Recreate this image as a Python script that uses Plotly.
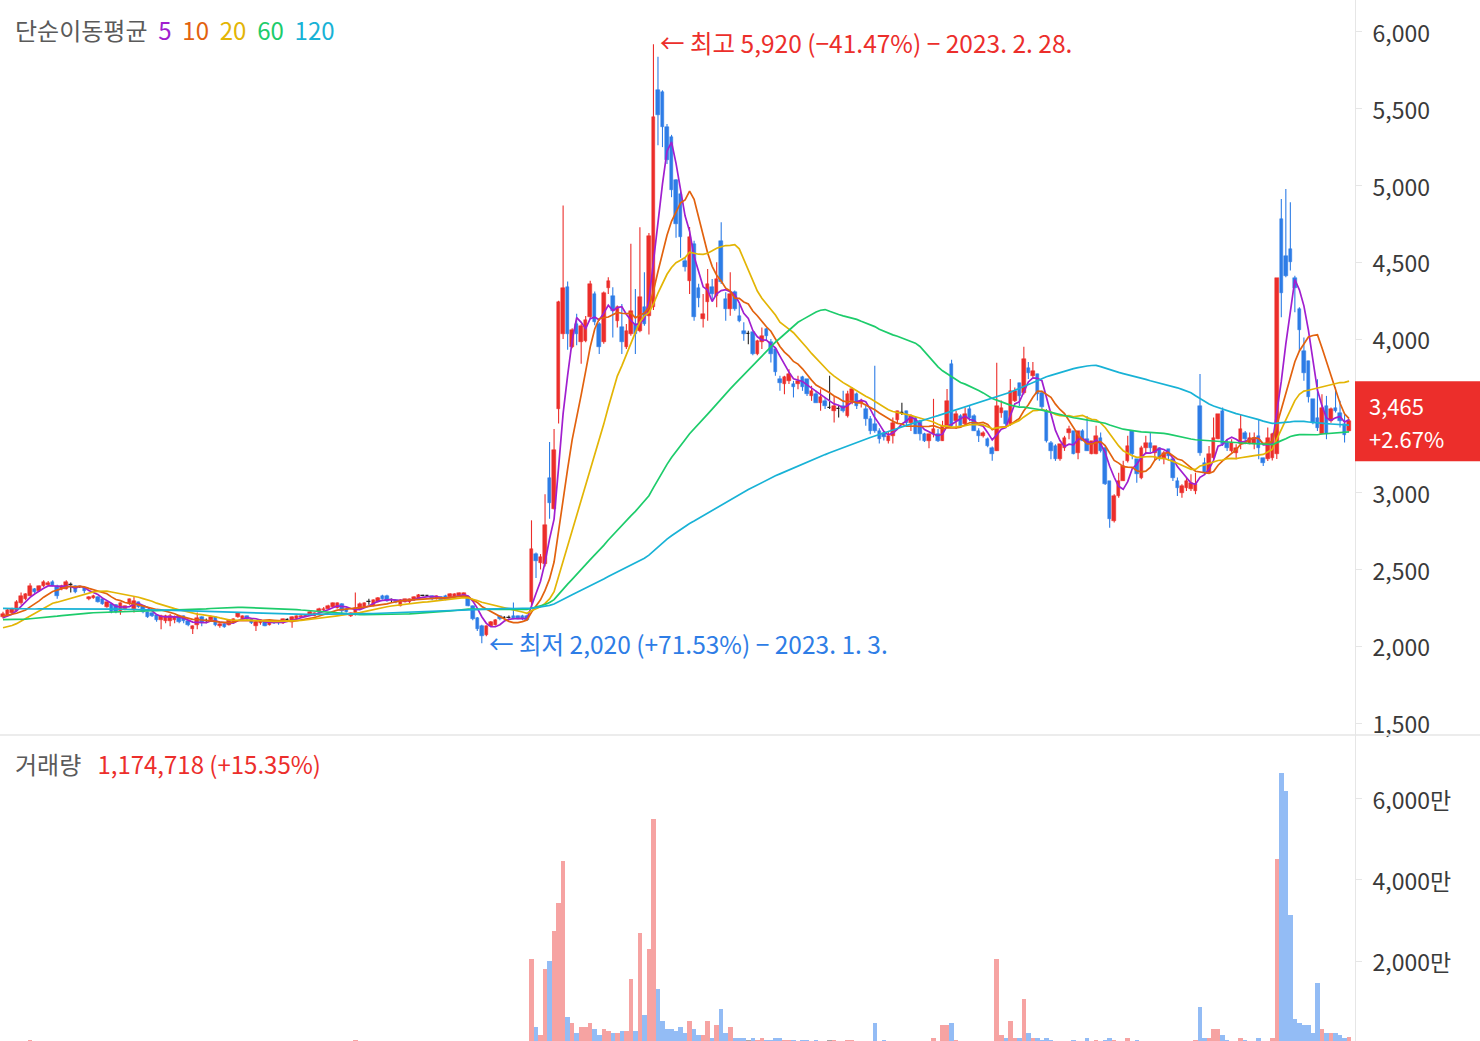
import plotly.graph_objects as go
import pandas as pd

# ---------------- data ----------------
opens = [
    2190, 2200, 2215, 2230, 2280, 2310, 2330, 2370, 2360, 2390,
    2400, 2420, 2395, 2370, 2375, 2400, 2390, 2385, 2380, 2305,
    2315, 2320, 2310, 2255, 2275, 2270, 2230, 2240, 2275, 2240,
    2285, 2260, 2220, 2215, 2205, 2170, 2165, 2165, 2170, 2200,
    2195, 2165, 2110, 2140, 2190, 2165, 2170, 2190, 2130, 2145,
    2140, 2160, 2190, 2175, 2195, 2175, 2130, 2150, 2165, 2140,
    2165, 2160, 2150, 2170, 2160, 2180, 2190, 2195, 2205, 2200,
    2220, 2235, 2245, 2255, 2250, 2275, 2245, 2200, 2215, 2245,
    2255, 2290, 2265, 2290, 2330, 2330, 2300, 2300, 2265, 2290,
    2285, 2300, 2310, 2330, 2325, 2325, 2310, 2320, 2330, 2320,
    2320, 2325, 2330, 2320, 2260, 2185, 2130, 2075, 2130, 2140,
    2195, 2185, 2185, 2200, 2195, 2200, 2200, 2290, 2600, 2540,
    2535, 3095, 2895, 3545, 4035, 4340, 3950, 4100, 3980, 3985,
    4142, 4294, 4098, 3979, 4330, 4283, 4120, 4076, 3946, 4033,
    4098, 4055, 4207, 4150, 4210, 5620, 5610, 5381, 5316, 5033,
    4946, 4511, 4381, 4620, 4330, 4130, 4240, 4337, 4283, 4642,
    4261, 4196, 4305, 4152, 4054, 4030, 4043, 3902, 3978, 4065,
    3978, 3935, 3739, 3707, 3728, 3707, 3707, 3750, 3739, 3630,
    3641, 3587, 3598, 3554, 3533, 3544, 3565, 3500, 3598, 3641,
    3587, 3546, 3480, 3448, 3402, 3390, 3337, 3370, 3470, 3520,
    3533, 3455, 3487, 3465, 3383, 3337, 3383, 3383, 3337, 3435,
    3840, 3468, 3500, 3446, 3546, 3500, 3402, 3370, 3350, 3290,
    3272, 3520, 3533, 3448, 3598, 3715, 3650, 3815, 3760, 3775,
    3652, 3533, 3326, 3305, 3218, 3294, 3391, 3402, 3261, 3402,
    3348, 3250, 3250, 3359, 3294, 3076, 2815, 2978, 3076, 3207,
    3402, 3218, 3098, 3294, 3326, 3261, 3294, 3218, 3283, 3218,
    3076, 3000, 3033, 3022, 3011, 3566, 3196, 3130, 3228, 3348,
    3533, 3326, 3272, 3261, 3315, 3391, 3315, 3315, 3370, 3228,
    3217, 3228, 3250, 4783, 4544, 4587, 4400, 4196, 3924, 3859,
    3609, 3489, 3380, 3565, 3467, 3554, 3522, 3445, 3400,
]
highs = [
    2225, 2245, 2250, 2300, 2350, 2345, 2410, 2380, 2395, 2430,
    2425, 2430, 2400, 2400, 2430, 2415, 2395, 2390, 2385, 2325,
    2335, 2325, 2315, 2290, 2280, 2275, 2285, 2265, 2310, 2320,
    2290, 2265, 2225, 2220, 2210, 2205, 2205, 2210, 2200, 2205,
    2200, 2170, 2135, 2220, 2195, 2180, 2200, 2195, 2150, 2150,
    2175, 2180, 2220, 2200, 2200, 2180, 2165, 2175, 2170, 2170,
    2170, 2165, 2180, 2180, 2195, 2200, 2205, 2210, 2230, 2220,
    2250, 2255, 2270, 2285, 2285, 2280, 2250, 2220, 2350, 2285,
    2285, 2310, 2305, 2320, 2335, 2335, 2310, 2305, 2305, 2310,
    2310, 2325, 2340, 2335, 2330, 2330, 2330, 2325, 2335, 2345,
    2345, 2350, 2350, 2325, 2265, 2190, 2140, 2135, 2165, 2175,
    2200, 2195, 2200, 2285, 2200, 2205, 2205, 2820, 2610, 2600,
    2990, 3330, 3415, 4250, 4870, 4375, 4070, 4165, 4100, 4150,
    4380, 4310, 4110, 4310, 4403, 4337, 4218, 4229, 4098, 4620,
    4326, 4729, 4435, 4690, 5920, 5838, 5620, 5400, 5330, 5040,
    4960, 4530, 4730, 4640, 4360, 4294, 4457, 4392, 4500, 4761,
    4305, 4435, 4316, 4228, 4109, 4054, 4050, 3995, 4076, 4072,
    4000, 3935, 3761, 3761, 3804, 3728, 3761, 3761, 3739, 3696,
    3663, 3674, 3620, 3761, 3630, 3565, 3663, 3663, 3685, 3652,
    3611, 3565, 3500, 3826, 3420, 3400, 3400, 3490, 3533, 3585,
    3533, 3510, 3500, 3475, 3390, 3383, 3611, 3415, 3468, 3675,
    3865, 3533, 3510, 3555, 3565, 3510, 3420, 3400, 3360, 3300,
    3846, 3600, 3533, 3740, 3685, 3715, 3950, 3850, 3850, 3775,
    3663, 3544, 3337, 3315, 3315, 3370, 3435, 3402, 3402, 3413,
    3500, 3337, 3435, 3391, 3300, 3076, 2990, 3130, 3207, 3370,
    3402, 3218, 3305, 3370, 3391, 3305, 3294, 3272, 3283, 3229,
    3098, 3055, 3098, 3120, 3130, 3772, 3228, 3304, 3489, 3511,
    3554, 3348, 3348, 3315, 3511, 3402, 3391, 3391, 3478, 3228,
    3424, 3390, 4395, 4913, 4978, 4891, 4413, 4207, 4011, 3859,
    3609, 3739, 3641, 3630, 3554, 3685, 3598, 3511, 3480,
]
lows = [
    2180, 2195, 2205, 2225, 2270, 2300, 2325, 2345, 2355, 2385,
    2395, 2390, 2310, 2365, 2370, 2350, 2345, 2380, 2345, 2300,
    2310, 2285, 2270, 2250, 2215, 2215, 2205, 2235, 2270, 2220,
    2250, 2215, 2185, 2190, 2160, 2110, 2150, 2130, 2150, 2150,
    2150, 2130, 2080, 2110, 2130, 2150, 2165, 2130, 2120, 2120,
    2135, 2155, 2185, 2170, 2170, 2145, 2100, 2140, 2130, 2135,
    2145, 2140, 2145, 2160, 2120, 2175, 2185, 2190, 2200, 2195,
    2215, 2230, 2240, 2250, 2245, 2215, 2220, 2190, 2200, 2240,
    2250, 2270, 2260, 2285, 2305, 2290, 2285, 2280, 2260, 2285,
    2280, 2295, 2305, 2325, 2320, 2300, 2305, 2295, 2300, 2315,
    2315, 2320, 2325, 2260, 2170, 2100, 2020, 2065, 2125, 2135,
    2170, 2180, 2180, 2175, 2175, 2170, 2165, 2250, 2445, 2500,
    2520, 2830, 2890, 3450, 4000, 3930, 3940, 3960, 3840, 3980,
    4130, 4090, 3903, 3970, 4294, 4011, 4076, 3903, 3935, 4022,
    3903, 4044, 4087, 4030, 4190, 5262, 5250, 5140, 4924, 4660,
    4530, 4440, 4294, 4120, 4207, 4076, 4120, 4250, 4207, 4359,
    4120, 4152, 4185, 4110, 3989, 3967, 3895, 3895, 3935, 3989,
    3848, 3761, 3663, 3641, 3707, 3620, 3674, 3663, 3630, 3598,
    3587, 3533, 3544, 3544, 3457, 3489, 3522, 3489, 3576, 3544,
    3554, 3435, 3380, 3390, 3320, 3340, 3320, 3320, 3450, 3505,
    3440, 3402, 3383, 3340, 3330, 3290, 3360, 3330, 3337, 3425,
    3425, 3415, 3425, 3435, 3465, 3402, 3330, 3360, 3295, 3207,
    3272, 3487, 3435, 3435, 3590, 3565, 3640, 3740, 3750, 3600,
    3544, 3326, 3218, 3207, 3207, 3272, 3348, 3250, 3218, 3337,
    3272, 3250, 3250, 3261, 3050, 2772, 2805, 2967, 3076, 3196,
    3218, 3065, 3087, 3250, 3261, 3207, 3207, 3185, 3207, 3076,
    2978, 2967, 3011, 3011, 2990, 3240, 3120, 3130, 3217, 3348,
    3304, 3272, 3261, 3217, 3283, 3315, 3315, 3283, 3217, 3174,
    3206, 3210, 3220, 4142, 4402, 4446, 4174, 3924, 3728, 3587,
    3445, 3402, 3380, 3348, 3456, 3522, 3424, 3326, 3400,
]
closes = [
    2210, 2235, 2240, 2290, 2330, 2340, 2390, 2350, 2390, 2420,
    2415, 2395, 2330, 2395, 2420, 2400, 2350, 2385, 2360, 2320,
    2330, 2290, 2275, 2285, 2220, 2225, 2280, 2260, 2305, 2295,
    2255, 2220, 2190, 2195, 2170, 2200, 2200, 2200, 2190, 2160,
    2165, 2140, 2130, 2185, 2150, 2165, 2190, 2140, 2145, 2125,
    2170, 2175, 2215, 2195, 2175, 2150, 2160, 2170, 2135, 2165,
    2150, 2150, 2175, 2170, 2190, 2195, 2200, 2205, 2220, 2215,
    2245, 2245, 2265, 2280, 2280, 2230, 2225, 2215, 2250, 2275,
    2280, 2290, 2300, 2315, 2310, 2295, 2300, 2285, 2300, 2305,
    2305, 2320, 2335, 2330, 2325, 2305, 2325, 2300, 2305, 2340,
    2340, 2345, 2345, 2265, 2175, 2110, 2065, 2130, 2160, 2170,
    2175, 2185, 2185, 2180, 2180, 2175, 2170, 2635, 2555, 2580,
    2790, 2935, 3280, 4240, 4330, 4035, 4060, 4035, 4085, 4125,
    4359, 4110, 3950, 4300, 4381, 4185, 4207, 3979, 4055, 4185,
    4033, 4272, 4098, 4670, 5445, 5457, 5381, 5164, 4968, 4750,
    4664, 4468, 4664, 4142, 4265, 4163, 4359, 4294, 4392, 4370,
    4196, 4294, 4196, 4120, 4033, 4030, 3902, 3989, 4022, 4022,
    3902, 3783, 3717, 3750, 3772, 3685, 3728, 3685, 3641, 3663,
    3587, 3620, 3565, 3554, 3565, 3544, 3533, 3641, 3674, 3565,
    3598, 3481, 3400, 3402, 3350, 3360, 3370, 3455, 3533, 3520,
    3455, 3500, 3383, 3383, 3337, 3383, 3415, 3337, 3435, 3598,
    3435, 3513, 3435, 3513, 3487, 3402, 3370, 3390, 3305, 3250,
    3566, 3552, 3448, 3663, 3663, 3630, 3870, 3780, 3795, 3645,
    3555, 3337, 3272, 3218, 3315, 3359, 3413, 3250, 3402, 3337,
    3272, 3337, 3370, 3272, 3055, 2826, 2978, 3076, 3174, 3305,
    3250, 3120, 3294, 3326, 3294, 3305, 3218, 3261, 3240, 3098,
    3033, 3044, 3076, 3065, 3055, 3261, 3130, 3250, 3359, 3511,
    3315, 3293, 3326, 3293, 3413, 3348, 3359, 3359, 3293, 3196,
    3359, 3380, 4395, 4300, 4413, 4500, 4330, 4060, 3780, 3620,
    3456, 3424, 3554, 3380, 3544, 3533, 3467, 3375, 3465,
]
# volume in units of 만 (10,000 shares)
volumes_man = [
    8, 10, 6, 12, 15, 10, 60, 8, 10, 12,
    9, 8, 14, 7, 10, 6, 9, 5, 8, 12,
    6, 9, 7, 10, 12, 8, 9, 6, 10, 11,
    7, 8, 6, 5, 9, 12, 8, 10, 6, 7,
    5, 8, 14, 11, 7, 5, 6, 8, 5, 6,
    7, 5, 9, 6, 5, 7, 10, 6, 5, 7,
    5, 6, 7, 4, 9, 5, 6, 5, 8, 6,
    9, 7, 8, 10, 9, 11, 6, 7, 45, 12,
    10, 8, 9, 10, 11, 9, 6, 5, 8, 7,
    6, 8, 9, 5, 4, 6, 7, 5, 6, 8,
    7, 6, 8, 12, 18, 20, 22, 15, 10, 9,
    8, 6, 5, 12, 8, 9, 10, 2049, 378, 170,
    1802, 2000, 2740, 3424, 4469, 617, 469, 222, 370, 370,
    469, 321, 173, 321, 272, 222, 222, 272, 272, 1555,
    272, 2691, 667, 2296, 5506, 1309, 518, 321, 321, 272,
    370, 222, 518, 321, 173, 173, 518, 99, 420, 815,
    222, 370, 99, 99, 99, 49, 99, 49, 99, 49,
    49, 99, 99, 40, 50, 30, 20, 30, 40, 20,
    25, 20, 15, 30, 40, 15, 20, 30, 25, 20,
    15, 20, 20, 469, 15, 49, 15, 20, 15, 10,
    15, 10, 15, 15, 10, 15, 99, 15, 420, 420,
    469, 49, 15, 10, 15, 10, 10, 10, 15, 20,
    2049, 173, 99, 518, 99, 99, 1062, 222, 99, 99,
    49, 99, 49, 15, 15, 10, 15, 49, 15, 10,
    99, 15, 49, 15, 49, 99, 49, 15, 15, 99,
    15, 49, 15, 10, 10, 10, 15, 10, 10, 15,
    15, 10, 15, 15, 49, 864, 99, 99, 321, 321,
    173, 49, 15, 15, 99, 49, 15, 15, 99, 15,
    15, 99, 4518, 6642, 6197, 3136, 568, 469, 420, 420,
    222, 1457, 321, 222, 222, 222, 173, 101.8394, 117.4718,
]
# closes before the visible window (estimated from where the MA lines start)
prior_closes = [
    2380, 2400, 2420, 2410, 2390, 2370, 2360, 2380, 2400, 2390,
    2370, 2350, 2340, 2360, 2380, 2370, 2350, 2330, 2320, 2340,
    2350, 2330, 2310, 2300, 2320, 2340, 2330, 2310, 2300, 2290,
    2300, 2320, 2310, 2290, 2280, 2300, 2320, 2330, 2310, 2300,
    2290, 2280, 2300, 2310, 2290, 2270, 2280, 2300, 2290, 2280,
    2270, 2260, 2280, 2300, 2290, 2280, 2270, 2260, 2270, 2250,
    2250, 2240, 2230, 2240, 2260, 2250, 2230, 2220, 2210, 2230,
    2220, 2200, 2190, 2210, 2230, 2220, 2200, 2190, 2180, 2200,
    2210, 2190, 2180, 2170, 2190, 2210, 2200, 2180, 2170, 2180,
    2190, 2200, 2180, 2170, 2160, 2170, 2180, 2160, 2150, 2140,
    2100, 2080, 2050, 2030, 2020, 2010, 2030, 2040, 2050, 2040,
    2150, 2200, 2230, 2240, 2215, 2190, 2170, 2175, 2180,
]
high_date = "2023. 2. 28."
low_date = "2023. 1. 3."

ma_periods = [5, 10, 20, 60, 120]
ma_colors = ["#a11fcf", "#e2620e", "#e3b505", "#1dcc6b", "#18b2d6"]

price_ticks = [1500, 2000, 2500, 3000, 3500, 4000, 4500, 5000, 5500, 6000]
volume_ticks = [2000, 4000, 6000]

# ---------------- styling ----------------
FONT = "Noto Sans CJK KR, Noto Sans, sans-serif"
RED = "#ec2e2b"
BLUE = "#2e7de6"
BLACK = "#222222"
VRED = "#f6a3a2"
VBLUE = "#93bcf5"
VGRAY = "#a6a6a6"
AXIS_LINE = "#e6e6e6"
TICK_FONT = dict(family=FONT, size=23, color="#3a3a3a")

n = len(closes)
x = list(range(n))

up = [i for i in x if closes[i] > opens[i]]
down = [i for i in x if closes[i] < opens[i]]
flat = [i for i in x if closes[i] == opens[i]]

fig = go.Figure()


def add_candles(idx, color, edge):
    if not idx:
        return
    # wicks: one line segment per candle, high to low
    wx, wy = [], []
    for i in idx:
        wx += [x[i], x[i], None]
        wy += [lows[i], highs[i], None]
    fig.add_trace(go.Scatter(x=wx, y=wy, mode="lines", line=dict(color=color, width=1.1),
                             xaxis="x", yaxis="y", hoverinfo="skip", showlegend=False))
    # bodies: bar from open to close
    fig.add_trace(go.Bar(
        x=[x[i] for i in idx],
        y=[abs(closes[i] - opens[i]) for i in idx],
        base=[min(opens[i], closes[i]) for i in idx],
        width=0.78,
        marker=dict(color=color, line=dict(color=color, width=edge)),
        xaxis="x", yaxis="y", hoverinfo="skip", showlegend=False,
    ))


add_candles(up, RED, 0.5)
add_candles(down, BLUE, 0.5)
add_candles(flat, BLACK, 1.2)

# moving averages
series = pd.Series(prior_closes + closes, dtype=float)
for p, col in zip(ma_periods, ma_colors):
    ma = series.rolling(p).mean().iloc[len(prior_closes):].tolist()
    fig.add_trace(go.Scatter(
        x=x, y=ma, mode="lines", line=dict(color=col, width=1.7),
        xaxis="x", yaxis="y", hoverinfo="skip", showlegend=False,
    ))

# volume
vcolors = [VRED if closes[i] > opens[i] else VBLUE if closes[i] < opens[i] else VGRAY for i in x]
fig.add_trace(go.Bar(
    x=x, y=volumes_man, width=1.0, marker=dict(color=vcolors, line=dict(width=0)),
    xaxis="x2", yaxis="y2", hoverinfo="skip", showlegend=False,
))

# ---------------- layout ----------------
W, H = 1480, 1041
PLOT_W = 1355
SPLIT = 735  # pixel row of the panel separator
dom_split = (H - SPLIT) / H

px_per_unit = 4.517
x0 = -3 / px_per_unit
xrange = [x0, x0 + PLOT_W / px_per_unit]

last = closes[-1]
prev = closes[-2]
chg = (last / prev - 1) * 100

# the price tag on the axis hides the tick label it sits on
shown_price_ticks = [t for t in price_ticks if abs(t - last) > 300]

fig.update_layout(
    width=W, height=H,
    margin=dict(l=0, r=W - PLOT_W, t=0, b=0, pad=0, autoexpand=False),
    paper_bgcolor="white", plot_bgcolor="white",
    showlegend=False, hovermode=False, barmode="overlay", bargap=0,
    font=dict(family=FONT),
    xaxis=dict(domain=[0, 1], range=xrange, anchor="y", showgrid=False, zeroline=False,
               showticklabels=False, ticks="", showline=False, automargin=False),
    xaxis2=dict(domain=[0, 1], range=xrange, anchor="y2", matches="x", showgrid=False,
                zeroline=False, showticklabels=False, ticks="", showline=False,
                automargin=False),
    yaxis=dict(domain=[dom_split, 1], range=[1422, 6208], side="right", anchor="x",
               tickvals=shown_price_ticks, tickformat=",", showgrid=False, zeroline=False,
               ticks="outside", ticklen=6, tickcolor=AXIS_LINE, showline=True,
               linecolor=AXIS_LINE, linewidth=1, tickfont=TICK_FONT, ticklabelstandoff=6,
               ticklabelshift=2, automargin=False),
    yaxis2=dict(domain=[0, dom_split], range=[24.7, 7580], side="right", anchor="x2",
                tickvals=volume_ticks, ticktext=[f"{v:,}만" for v in volume_ticks],
                showgrid=False, zeroline=False, ticks="outside", ticklen=6,
                tickcolor=AXIS_LINE, showline=True, linecolor=AXIS_LINE, linewidth=1,
                tickfont=TICK_FONT, ticklabelstandoff=6, ticklabelshift=2,
                automargin=False),
)

# panel separator
fig.add_shape(type="line", xref="paper", yref="paper", x0=0, x1=W / PLOT_W,
              y0=dom_split, y1=dom_split, line=dict(color=AXIS_LINE, width=1.5))

# current price box
fig.add_shape(type="rect", xref="paper", x0=1.0, x1=W / PLOT_W,
              yref="y", ysizemode="pixel", yanchor=last, y0=-40, y1=40,
              fillcolor=RED, line=dict(width=0), layer="above")
fig.add_annotation(xref="paper", x=1.0, xshift=12, xanchor="left", yref="y", y=last,
                   yshift=16, yanchor="middle", showarrow=False, text=f"{last:,}",
                   font=dict(family=FONT, size=22, color="white"))
fig.add_annotation(xref="paper", x=1.0, xshift=12, xanchor="left", yref="y", y=last,
                   yshift=-17, yanchor="middle", showarrow=False, text=f"{chg:+.2f}%",
                   font=dict(family=FONT, size=22, color="white"))

# high / low labels
hi = max(highs)
hi_i = highs.index(hi)
lo = min(lows)
lo_i = lows.index(lo)
fig.add_annotation(x=hi_i, y=hi, xref="x", yref="y", xanchor="left", yanchor="middle",
                   xshift=5, yshift=2, showarrow=False,
                   text=f"← 최고 {hi:,} ({(last / hi - 1) * 100:.2f}%) − {high_date}".replace("(-", "(−"),
                   font=dict(family=FONT, size=24.5, color=RED))
fig.add_annotation(x=lo_i, y=lo, xref="x", yref="y", xanchor="left", yanchor="middle",
                   xshift=5, showarrow=False,
                   text=f"← 최저 {lo:,} ({(last / lo - 1) * 100:+.2f}%) − {low_date}",
                   font=dict(family=FONT, size=24.5, color=BLUE))

# legend-like header
nb = "\u00a0"
legend_txt = f"<span style='color:#5a5a5a'>단순이동평균</span>{nb * 2}" + (nb * 2).join(
    f"<span style='color:{c}'>{p}</span>" for p, c in zip(ma_periods, ma_colors))
fig.add_annotation(xref="paper", yref="paper", x=13 / PLOT_W, y=1 - 30 / H,
                   xanchor="left", yanchor="middle", showarrow=False, text=legend_txt,
                   font=dict(family=FONT, size=24))

vol_last = volumes_man[-1] * 10000
vol_chg = (volumes_man[-1] / volumes_man[-2] - 1) * 100
vol_txt = (f"<span style='color:#5a5a5a'>거래량</span>{nb * 3}"
           f"<span style='color:{RED}'>{round(vol_last):,} ({vol_chg:+.2f}%)</span>")
fig.add_annotation(xref="paper", yref="paper", x=13 / PLOT_W, y=1 - 763 / H,
                   xanchor="left", yanchor="middle", showarrow=False, text=vol_txt,
                   font=dict(family=FONT, size=24))

fig.write_html("out.html", config={"displayModeBar": False},
               post_script="document.body.style.margin='0px';")
